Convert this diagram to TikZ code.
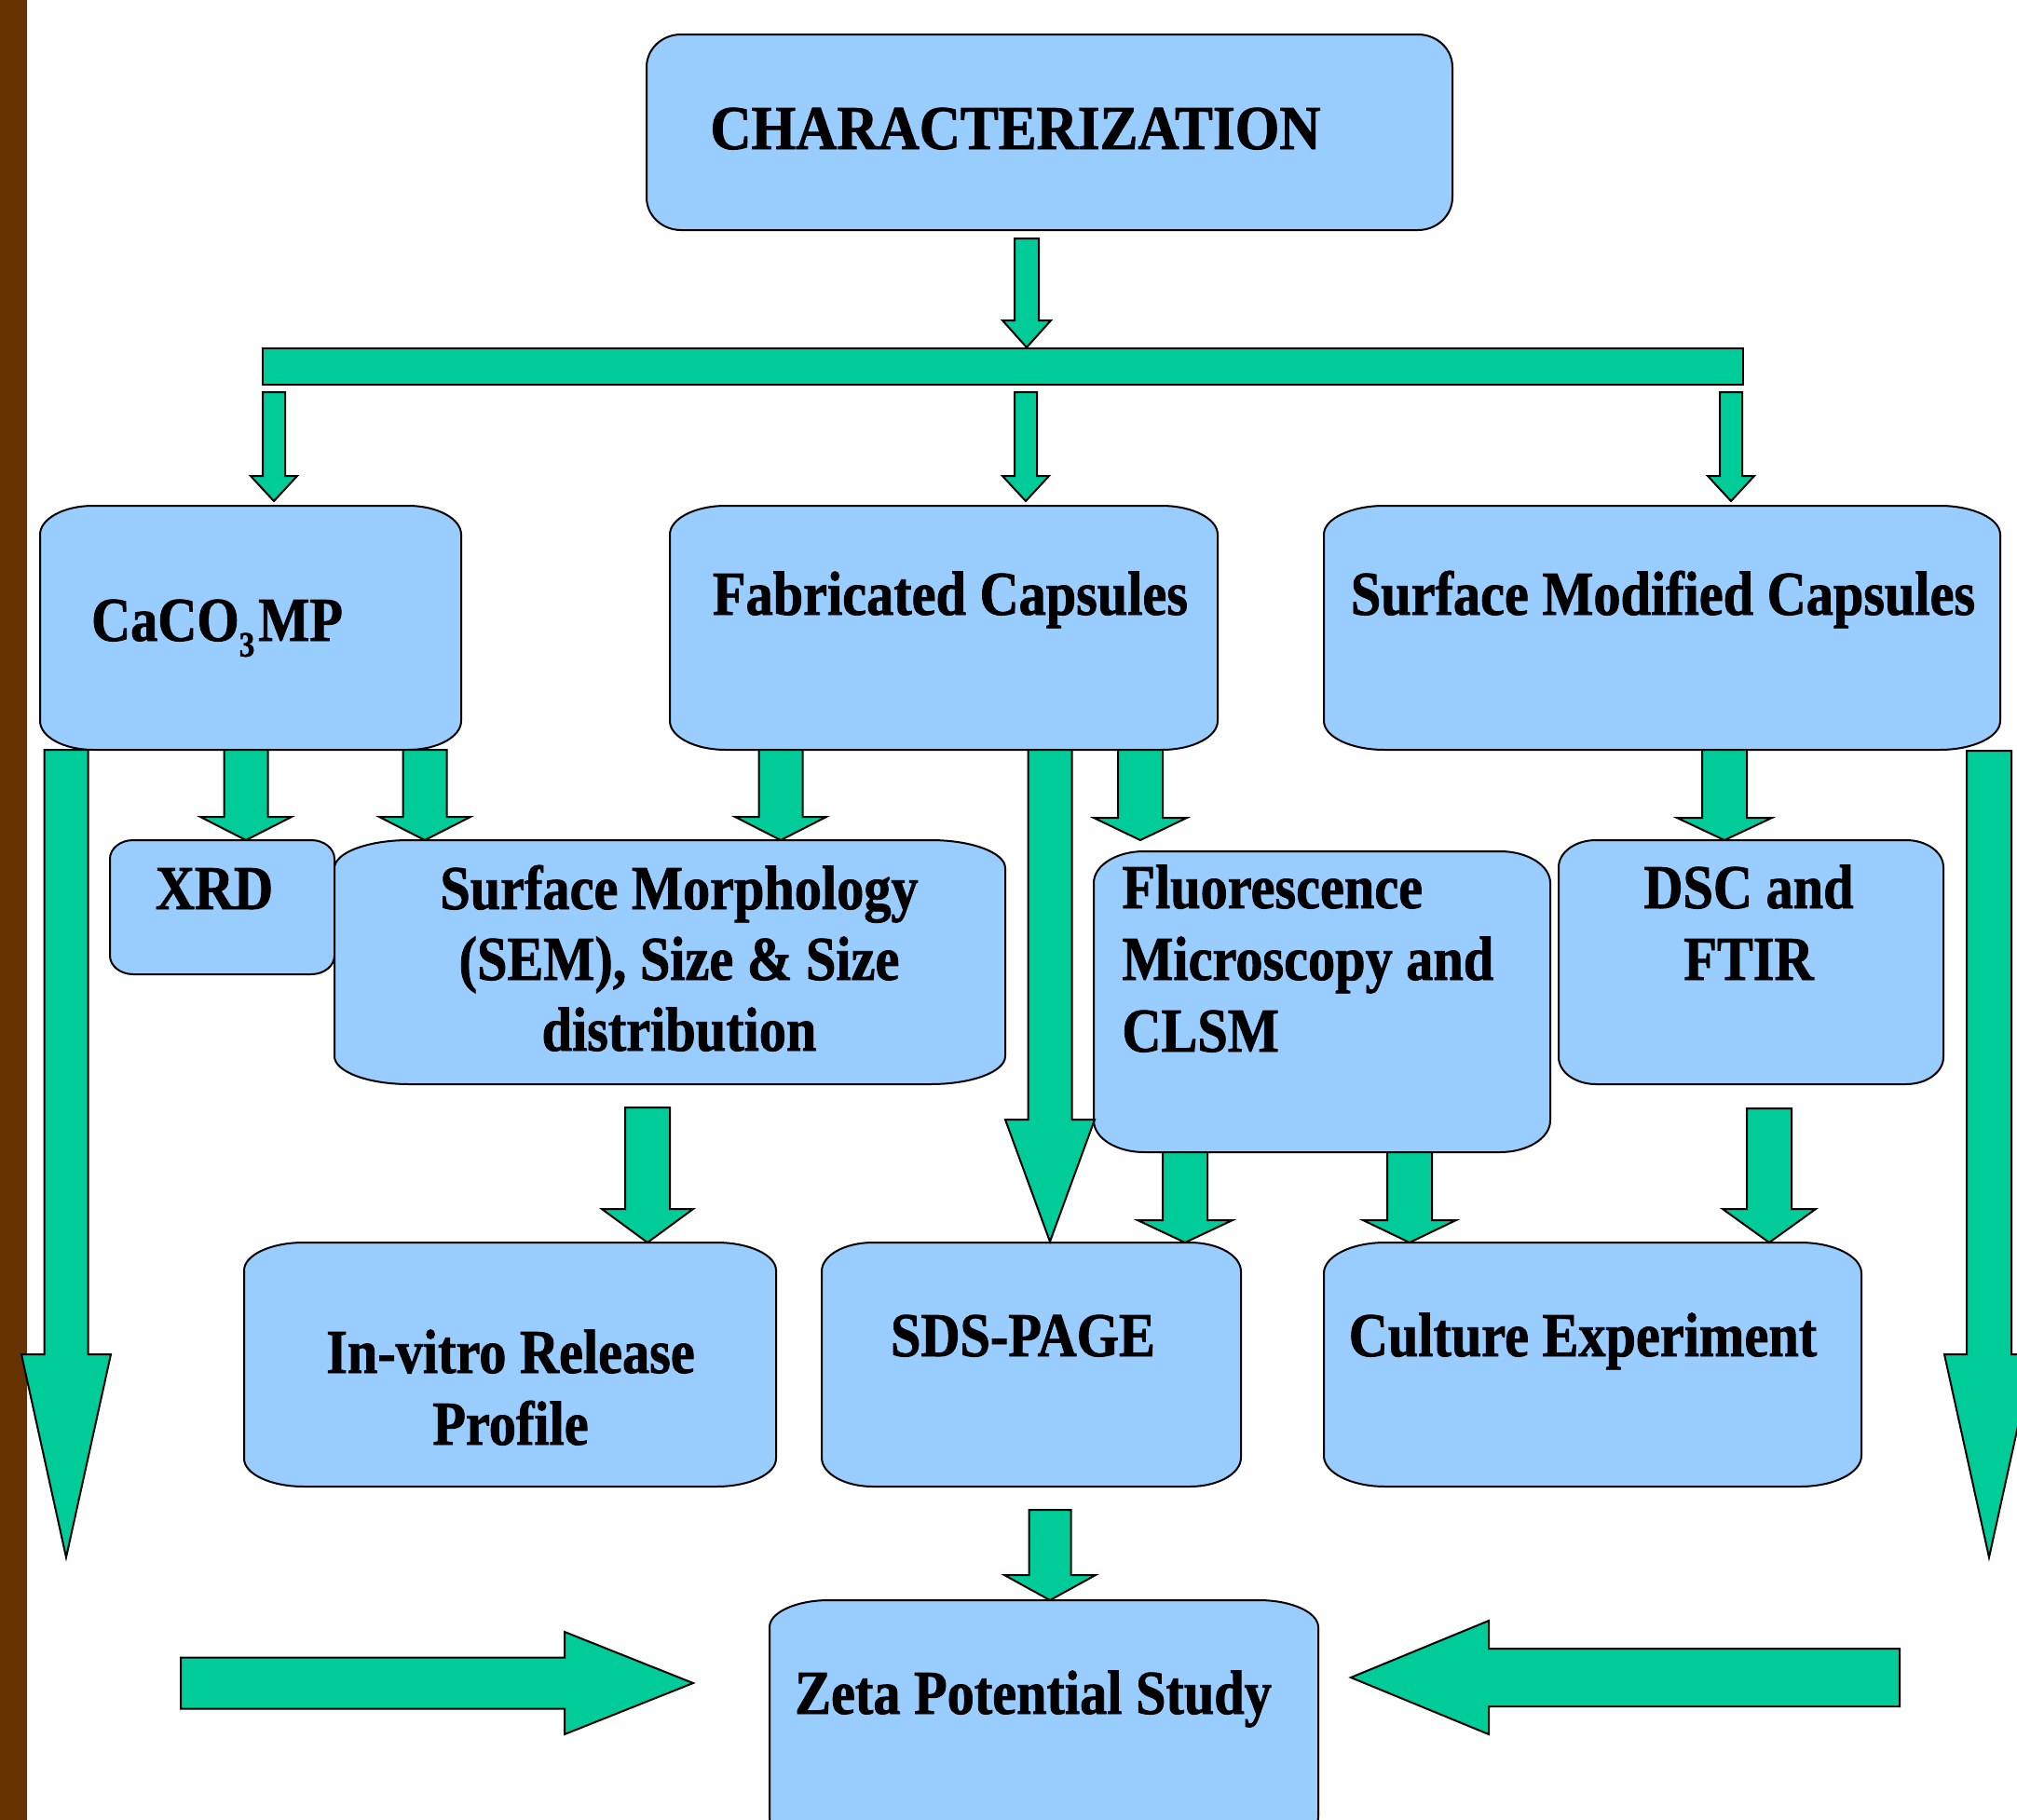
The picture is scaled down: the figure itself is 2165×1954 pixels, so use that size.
\documentclass[tikz,border=0pt]{standalone}
\usepackage{fontspec}
\setmainfont{Liberation Serif}[FakeStretch=0.87, BoldFeatures={FakeBold=1.2}]
\definecolor{boxblue}{HTML}{99CCFF}
\definecolor{arrowgreen}{HTML}{00CC99}
\definecolor{barbrown}{HTML}{663300}
\tikzset{
  boxshape/.style={draw=black, fill=boxblue, line width=1pt},
  blockarrow/.style={draw=black, fill=arrowgreen, line width=1pt, line join=miter},
  lbl/.style={inner sep=0pt, font=\fontsize{33.5}{38}\selectfont\bfseries, anchor=base},
}
% rounded box with elliptical corners: name, x1, y1, x2, y2, rx, ry
\newcommand\rrbox[7]{%
  \path[boxshape] ({#2+#6},#3) -- ({#4-#6},#3)
    .. controls ({#4-0.4477*#6},#3) and (#4,{#3+0.4477*#7}) .. (#4,{#3+#7})
    -- (#4,{#5-#7})
    .. controls (#4,{#5-0.4477*#7}) and ({#4-0.4477*#6},#5) .. ({#4-#6},#5)
    -- ({#2+#6},#5)
    .. controls ({#2+0.4477*#6},#5) and (#2,{#5-0.4477*#7}) .. (#2,{#5-#7})
    -- (#2,{#3+#7})
    .. controls (#2,{#3+0.4477*#7}) and ({#2+0.4477*#6},#3) .. ({#2+#6},#3) -- cycle;
  \path ({(#2+#4)/2},{(#3+#5)/2}) coordinate (#1);
}
% downward block arrow: cx, ytop, yheadbase, ytip, shaft half width, head half width
\newcommand\varrow[6]{%
  \path[blockarrow] ({#1-#5},#2) -- ({#1+#5},#2) -- ({#1+#5},#3) -- ({#1+#6},#3)
    -- (#1,#4) -- ({#1-#6},#3) -- ({#1-#5},#3) -- cycle;
}
% horizontal block arrow: cy, xtail, xheadbase, xtip, shaft half width, head half width
\newcommand\harrow[6]{%
  \path[blockarrow] (#2,{#1-#5}) -- (#3,{#1-#5}) -- (#3,{#1-#6}) -- (#4,#1)
    -- (#3,{#1+#6}) -- (#3,{#1+#5}) -- (#2,{#1+#5}) -- cycle;
}
\begin{document}
\begin{tikzpicture}[x=0.5pt, y=-0.5pt]
\useasboundingbox (0,0) rectangle (2165,1954);
\clip (0,0) rectangle (2165,1954);
\fill[white] (0,0) rectangle (2165,1954);
% brown side bar
\fill[barbrown] (0,0) rectangle (29,1954);

% boxes
\rrbox{char}{694}{37}{1559}{247}{37}{35}
\rrbox{cac}{43}{543}{495}{805}{57}{31}
\rrbox{fab}{719}{543}{1307}{805}{60}{31}
\rrbox{smc}{1421}{543}{2147}{805}{65}{31}
\rrbox{xrd}{118}{902}{359}{1046}{25}{20}
\rrbox{sem}{359}{902}{1079}{1164}{80}{30}
\rrbox{flu}{1174}{914}{1664}{1237}{54}{34}
\rrbox{dsc}{1673}{902}{2086}{1164}{40}{29}
\rrbox{ivr}{262}{1334}{833}{1596}{64}{30}
\rrbox{sds}{882}{1334}{1332}{1596}{55}{31}
\rrbox{cul}{1421}{1334}{1998}{1596}{66}{33}
\rrbox{zeta}{826}{1718}{1415}{1980}{64}{29}

% distribution bar
\path[blockarrow] (282,374) rectangle (1871,413);

% arrows
\varrow{1102}{256}{344}{373}{13}{26}
\varrow{294}{421}{511}{538}{12}{25}
\varrow{1101}{421}{511}{538}{12}{25}
\varrow{1858}{421}{511}{538}{12}{25}
\varrow{264}{805}{877}{902}{23.5}{49}
\varrow{456}{805}{877}{902}{23.5}{49}
\varrow{838}{805}{877}{902}{23.5}{49}
\varrow{1127}{805}{1202}{1333}{23.5}{48}
\varrow{1224}{805}{878}{902}{24}{50}
\varrow{1851}{805}{878}{902}{24}{51}
\varrow{71}{805}{1454}{1672}{23.5}{48}
\varrow{2135}{806}{1454}{1672}{24}{48}
\varrow{695}{1189}{1298}{1334}{24}{49}
\varrow{1272}{1237}{1310}{1334}{24}{51}
\varrow{1513}{1237}{1310}{1334}{24}{50}
\varrow{1899}{1190}{1298}{1334}{24}{50}
\varrow{1127}{1621}{1691}{1718}{22.5}{49}
\harrow{1807}{194}{606}{744}{27.5}{55}
\harrow{1801}{2039}{1598}{1450}{31}{61}

% labels
\node[lbl, xscale=1.05] (tchar) at (1090,160) {CHARACTERIZATION};
\node[lbl] (tcac) at (233,688) {CaCO\raisebox{-0.25em}{\fontsize{19}{19}\selectfont 3}\hspace{2pt}MP};
\node[lbl] (tfab) at (1020,660) {Fabricated Capsules};
\node[lbl] (tsmc) at (1785,660) {Surface Modified Capsules};
\node[lbl] (txrd) at (230,976) {XRD};
\node[lbl] (tsem1) at (729,976) {Surface Morphology};
\node[lbl] (tsem2) at (729,1052) {(SEM), Size \& Size};
\node[lbl] (tsem3) at (729,1128) {distribution};
\node[lbl, anchor=base west] (tflu1) at (1204,975) {Fluorescence};
\node[lbl, anchor=base west] (tflu2) at (1204,1052) {Microscopy and};
\node[lbl, anchor=base west] (tflu3) at (1204,1129) {CLSM};
\node[lbl] (tdsc1) at (1877,975) {DSC and};
\node[lbl] (tdsc2) at (1877,1052) {FTIR};
\node[lbl] (tivr1) at (548,1474) {In-vitro Release};
\node[lbl] (tivr2) at (548,1551) {Profile};
\node[lbl] (tsds) at (1098,1456) {SDS-PAGE};
\node[lbl] (tcul) at (1699,1456) {Culture Experiment};
\node[lbl] (tzeta) at (1109,1840) {Zeta Potential Study};
\end{tikzpicture}
\end{document}
